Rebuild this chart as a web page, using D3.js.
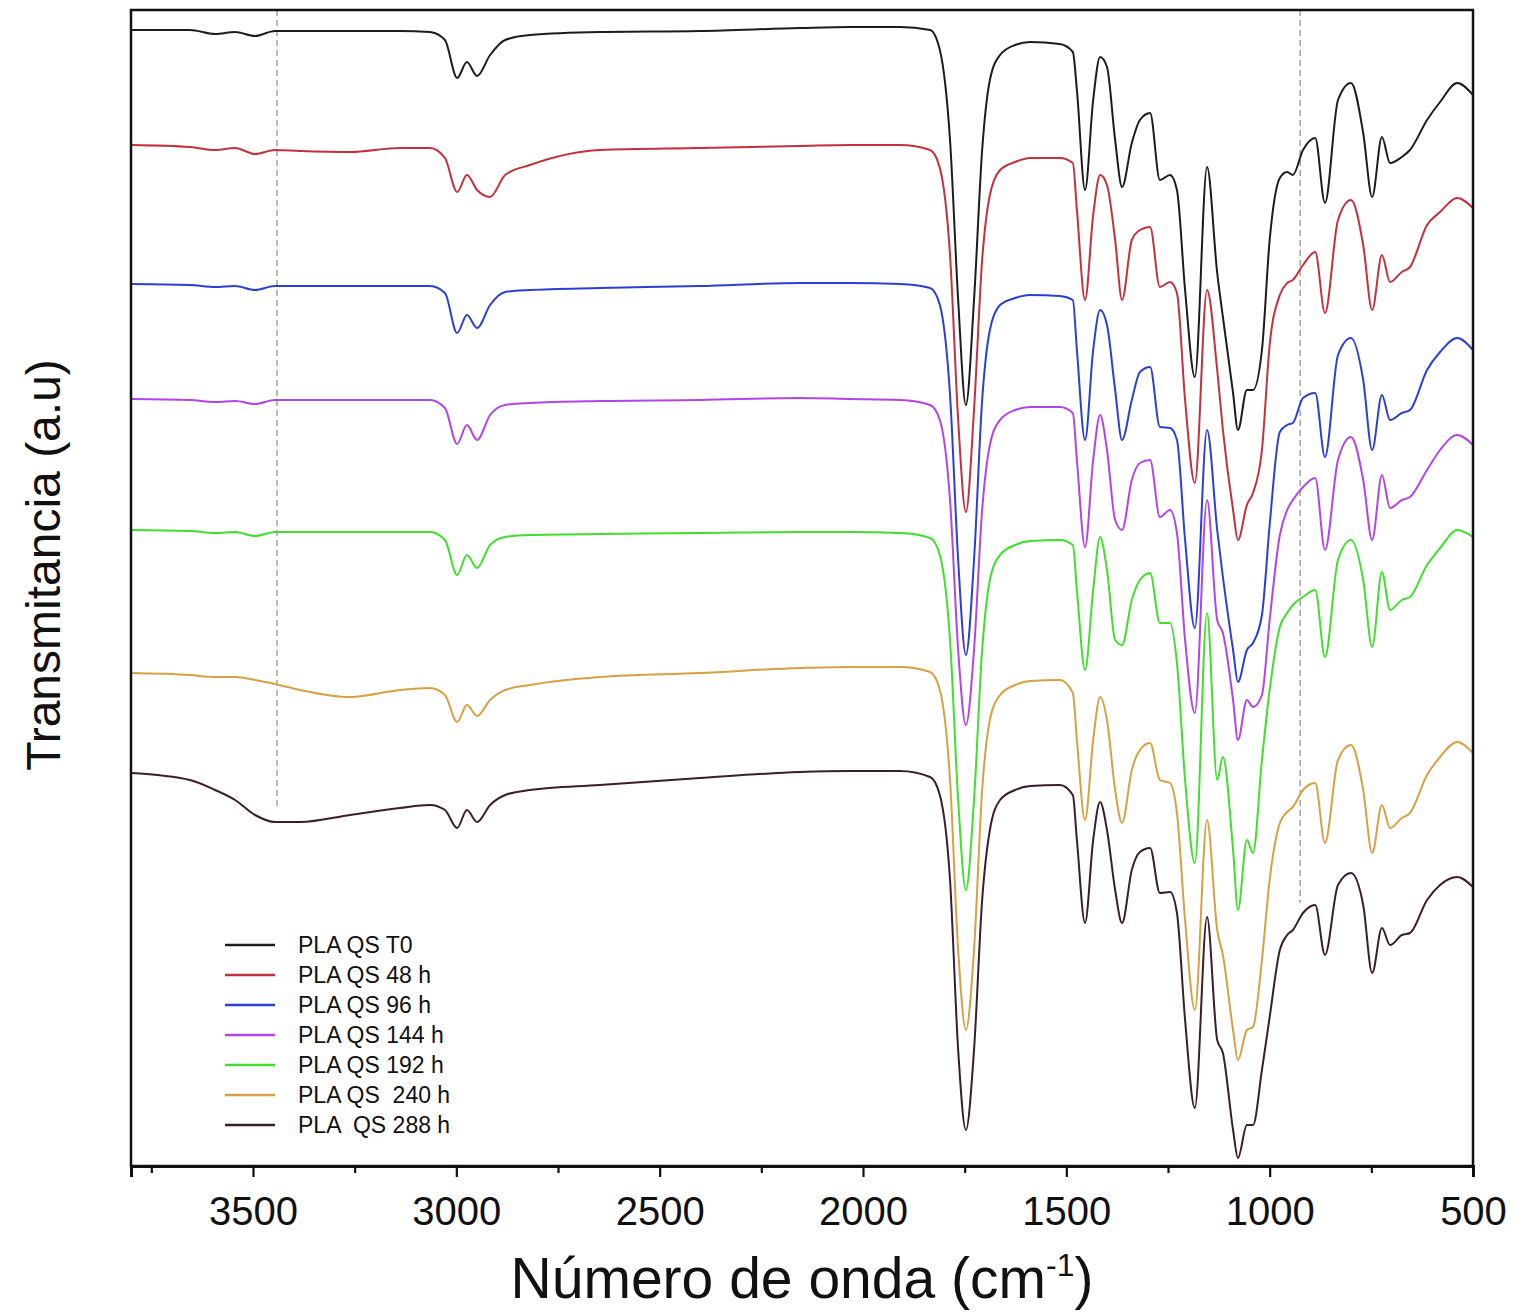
<!DOCTYPE html>
<meta charset="utf-8">
<style>
  body {
    margin: 0;
    background: #fff;
  }
  svg text {
    font-family: "Liberation Sans", Arial, Helvetica, sans-serif;
    fill: #111;
  }
  .legend text {
    white-space: pre;
  }
  .axis path, .axis line {
    stroke: #111;
  }
</style>
<body>
<div id="chart"></div>
<script src="https://cdnjs.cloudflare.com/ajax/libs/d3/7.8.5/d3.min.js"></script>
<script>
  // FTIR spectra, wavenumber grid shared by all series (cm-1)
  var wavenumbers = [3800, 3655, 3593, 3544, 3495, 3446, 3384, 3261, 3139, 3065,
    3028, 2998, 2974, 2949, 2917, 2880, 2819, 2647, 2401, 2155,
    2032, 1909, 1835, 1811, 1786, 1766, 1747, 1727, 1707, 1688,
    1663, 1626, 1589, 1516, 1484, 1474, 1454, 1434, 1417, 1400,
    1380, 1363, 1339, 1319, 1294, 1270, 1245, 1228, 1208, 1184,
    1154, 1129, 1115, 1090, 1078, 1056, 1041, 1019, 1000, 975,
    957, 943, 918, 888, 864, 832, 800, 770, 748, 724,
    704, 675, 655, 613, 581, 539, 500];

  var plaT0 = [113.6, 113.6, 113.2, 113.4, 113.0, 113.5, 113.5, 113.5, 113.5, 113.4,
    112.6, 108.8, 110.4, 109.0, 111.1, 112.6, 113.1, 113.4, 113.5, 113.8,
    113.9, 113.9, 113.6, 111.6, 102.6, 86.6, 76.1, 86.6, 101.6, 108.6,
    111.1, 112.1, 112.4, 112.2, 111.4, 107.6, 97.6, 106.6, 110.9, 109.9,
    102.6, 97.9, 102.3, 104.6, 105.3, 98.6, 99.1, 97.6, 87.6, 78.9,
    99.9, 89.3, 84.9, 77.3, 73.6, 77.6, 77.6, 81.6, 92.6, 98.8,
    99.4, 99.1, 101.6, 102.8, 96.3, 106.6, 108.3, 103.3, 96.9, 102.9,
    100.3, 100.9, 101.6, 104.6, 106.4, 108.3, 107.1];

  var pla48 = [102.1, 101.9, 101.6, 101.8, 101.2, 101.6, 101.5, 101.4, 101.8, 101.8,
    100.8, 97.4, 99.1, 97.6, 96.9, 99.1, 100.1, 101.6, 101.8, 102.0,
    102.1, 102.1, 101.6, 99.8, 91.1, 74.6, 65.4, 75.6, 90.6, 97.1,
    99.6, 100.4, 100.8, 100.8, 100.3, 95.6, 86.6, 95.1, 99.1, 98.1,
    92.6, 86.6, 92.6, 93.6, 93.9, 87.9, 88.4, 87.3, 76.6, 68.3,
    87.6, 79.6, 73.6, 65.6, 62.6, 66.1, 67.3, 71.6, 82.1, 87.1,
    88.3, 88.6, 90.1, 91.4, 85.3, 94.6, 96.6, 92.1, 85.6, 91.1,
    88.4, 89.4, 89.9, 94.1, 95.4, 96.8, 95.8];

  var pla96 = [88.2, 88.1, 87.9, 88.0, 87.6, 88.0, 88.0, 88.0, 88.0, 88.0,
    87.3, 83.3, 85.1, 83.8, 86.1, 87.4, 87.6, 87.8, 88.0, 88.3,
    88.3, 88.2, 87.8, 86.1, 77.1, 60.6, 51.1, 60.6, 76.6, 83.6,
    86.1, 86.8, 87.1, 87.0, 86.6, 81.6, 72.6, 81.6, 85.6, 84.1,
    77.6, 72.6, 76.6, 79.4, 79.9, 73.9, 73.8, 72.6, 62.6, 53.8,
    73.6, 63.6, 58.9, 51.6, 48.4, 51.6, 52.3, 55.1, 64.1, 73.4,
    74.1, 74.3, 76.8, 77.3, 70.9, 81.1, 82.8, 78.6, 71.6, 77.1,
    74.6, 75.3, 75.6, 79.6, 81.4, 82.8, 81.6];

  var pla144 = [76.7, 76.6, 76.4, 76.5, 76.2, 76.6, 76.6, 76.6, 76.6, 76.6,
    75.8, 72.2, 74.1, 72.6, 75.1, 76.1, 76.3, 76.5, 76.6, 76.8,
    76.7, 76.6, 76.1, 74.6, 66.6, 51.6, 44.1, 51.6, 65.6, 72.1,
    74.6, 75.6, 75.9, 75.9, 75.3, 70.6, 61.9, 70.6, 75.1, 71.6,
    64.6, 63.6, 68.6, 70.3, 70.6, 64.9, 65.6, 63.3, 52.6, 45.3,
    66.6, 54.6, 53.3, 46.6, 42.6, 46.6, 45.9, 47.1, 54.6, 63.1,
    65.6, 66.6, 67.9, 68.8, 61.6, 70.6, 72.9, 68.6, 62.6, 69.1,
    65.8, 66.6, 66.9, 69.6, 71.6, 73.1, 72.1];

  var pla192 = [63.6, 63.5, 63.3, 63.4, 63.0, 63.4, 63.4, 63.4, 63.4, 63.4,
    62.6, 59.1, 61.1, 59.8, 62.1, 62.9, 63.1, 63.2, 63.3, 63.4,
    63.4, 63.3, 62.8, 61.1, 52.6, 36.6, 27.6, 36.6, 51.6, 58.6,
    61.1, 62.1, 62.5, 62.6, 62.1, 57.6, 49.6, 57.6, 62.9, 59.6,
    52.6, 52.1, 56.6, 58.6, 59.3, 54.3, 54.3, 50.3, 38.6, 30.3,
    55.3, 38.6, 40.9, 31.6, 25.6, 32.6, 31.3, 40.6, 47.6, 53.9,
    55.3, 56.1, 56.9, 57.6, 50.9, 60.6, 62.6, 58.6, 51.9, 59.4,
    55.6, 56.6, 56.9, 60.1, 61.8, 63.6, 62.9];

  var pla240 = [49.3, 49.1, 48.9, 48.9, 48.6, 48.2, 47.6, 46.9, 47.6, 47.8,
    47.1, 44.4, 46.1, 45.0, 46.6, 47.6, 48.1, 48.9, 49.3, 49.8,
    49.9, 49.9, 49.4, 47.6, 38.6, 21.6, 13.6, 21.6, 37.6, 44.6,
    47.1, 48.1, 48.5, 48.6, 47.3, 42.6, 34.6, 42.6, 46.9, 44.6,
    37.6, 34.3, 39.6, 41.6, 42.3, 38.6, 38.3, 35.3, 24.6, 15.6,
    34.6, 23.6, 21.1, 13.6, 10.6, 13.6, 13.9, 20.6, 28.6, 34.3,
    35.4, 35.9, 37.6, 38.3, 32.3, 40.6, 42.1, 37.6, 31.3, 36.1,
    33.8, 34.8, 35.3, 39.1, 40.9, 42.4, 41.3];

  var pla288 = [39.3, 38.6, 37.6, 36.6, 35.1, 34.4, 34.4, 35.1, 35.8, 36.1,
    35.6, 33.8, 35.6, 34.4, 36.1, 37.1, 37.6, 38.1, 38.8, 39.4,
    39.5, 39.5, 38.9, 37.1, 28.6, 11.6, 3.6, 11.6, 26.6, 33.6,
    36.6, 37.6, 38.0, 38.1, 37.1, 32.6, 24.3, 32.6, 36.4, 33.6,
    27.6, 24.3, 29.6, 31.4, 31.8, 27.3, 27.4, 25.3, 14.6, 5.8,
    24.9, 12.6, 11.3, 3.6, 0.8, 4.1, 4.1, 9.6, 14.9, 21.6,
    23.1, 23.6, 25.3, 26.1, 21.1, 28.1, 29.3, 26.1, 19.3, 23.8,
    22.1, 23.1, 23.3, 26.6, 28.1, 28.9, 27.9];

  var seriesNames = ["PLA QS T0", "PLA QS 48 h", "PLA QS 96 h", "PLA QS 144 h",
    "PLA QS 192 h", "PLA QS  240 h", "PLA  QS 288 h"];
  var seriesValues = [plaT0, pla48, pla96, pla144, pla192, pla240, pla288];
  var seriesColors = ["#1c1c1c", "#c4303c", "#2b3fd6", "#b245ea", "#3fe02c", "#d9a043", "#3b1d2e"];

  var majorTicks = [3500, 3000, 2500, 2000, 1500, 1000, 500];
  var minorTicks = [3750, 3250, 2750, 2250, 1750, 1250, 750];
  var markerWavenumbers = [3441, 925];

  var w = 1533, h = 1312;
  var margin = {top: 10, right: 60, bottom: 146, left: 131};
  var width = w - margin.left - margin.right;
  var height = h - margin.top - margin.bottom;

  var svg = d3.select("#chart").append("svg")
    .attr("width", w)
    .attr("height", h);

  var g = svg.append("g")
    .attr("transform", "translate(" + margin.left + "," + margin.top + ")");

  var x = d3.scaleLinear().domain([3800, 500]).range([0, width]);
  var y = d3.scaleLinear().domain([0, 115.6]).range([height, 0]);

  // value of a series at a given wavenumber (linear interpolation)
  function valueAt(vals, wn) {
    for (var i = 0; i < wavenumbers.length - 1; i++) {
      var a = wavenumbers[i], b = wavenumbers[i + 1];
      if (wn <= a && wn >= b) {
        var t = (a - wn) / (a - b);
        return vals[i] + t * (vals[i + 1] - vals[i]);
      }
    }
    return vals[vals.length - 1];
  }

  // dashed guide lines, they stop at the lowest spectrum
  var lowest = seriesValues[seriesValues.length - 1];
  g.selectAll(".marker")
    .data(markerWavenumbers)
    .enter().append("line")
    .attr("class", "marker")
    .attr("x1", function (d) { return x(d); })
    .attr("x2", function (d) { return x(d); })
    .attr("y1", 0)
    .attr("y2", function (d) { return y(valueAt(lowest, d) + 1.5); })
    .attr("stroke", "#8a8a8a")
    .attr("stroke-width", 1.2)
    .attr("stroke-dasharray", "6,4");

  var line = d3.line()
    .x(function (d) { return x(d[0]); })
    .y(function (d) { return y(d[1]); })
    .curve(d3.curveMonotoneX);

  g.selectAll(".spectrum")
    .data(seriesValues)
    .enter().append("path")
    .attr("class", "spectrum")
    .attr("fill", "none")
    .attr("stroke", function (d, i) { return seriesColors[i]; })
    .attr("stroke-width", 2)
    .attr("stroke-linejoin", "round")
    .attr("d", function (vals) {
      return line(wavenumbers.map(function (wn, i) { return [wn, vals[i]]; }));
    });

  // frame
  g.append("rect")
    .attr("width", width)
    .attr("height", height)
    .attr("fill", "none")
    .attr("stroke", "#111")
    .attr("stroke-width", 2.5);

  var xAxis = g.append("g")
    .attr("class", "axis")
    .attr("transform", "translate(0," + height + ")")
    .call(d3.axisBottom(x).tickValues(majorTicks).tickSize(11).tickPadding(20).tickFormat(d3.format("d")));
  xAxis.select(".domain").attr("stroke-width", 3);
  xAxis.selectAll("line").attr("stroke-width", 2.2);
  xAxis.selectAll("text").style("font-size", "40px").attr("fill", "#111");

  g.append("g")
    .attr("class", "axis")
    .attr("transform", "translate(0," + height + ")")
    .call(d3.axisBottom(x).tickValues(minorTicks).tickSize(7).tickFormat(""))
    .call(function (s) { s.select(".domain").remove(); })
    .selectAll("line").attr("stroke-width", 2.2);

  // axis titles
  var xt = svg.append("text")
    .attr("x", margin.left + width / 2)
    .attr("y", 1298)
    .attr("text-anchor", "middle")
    .style("font-size", "57px");
  xt.append("tspan").text("Número de onda (cm");
  xt.append("tspan").attr("dy", -22).style("font-size", "32px").text("-1");
  xt.append("tspan").attr("dy", 22).text(")");

  svg.append("text")
    .attr("transform", "translate(60,565) rotate(-90)")
    .attr("text-anchor", "middle")
    .style("font-size", "48px")
    .text("Transmitancia (a.u)");

  // legend
  var legend = g.append("g")
    .attr("class", "legend")
    .attr("transform", "translate(94,935)");

  var items = legend.selectAll("g")
    .data(seriesNames)
    .enter().append("g")
    .attr("transform", function (d, i) { return "translate(0," + i * 30 + ")"; });

  items.append("line")
    .attr("x1", 0)
    .attr("x2", 50)
    .attr("stroke", function (d, i) { return seriesColors[i]; })
    .attr("stroke-width", 2.5);

  items.append("text")
    .attr("x", 73)
    .attr("dy", "0.36em")
    .style("font-size", "23px")
    .text(function (d) { return d; });
</script>
</body>
